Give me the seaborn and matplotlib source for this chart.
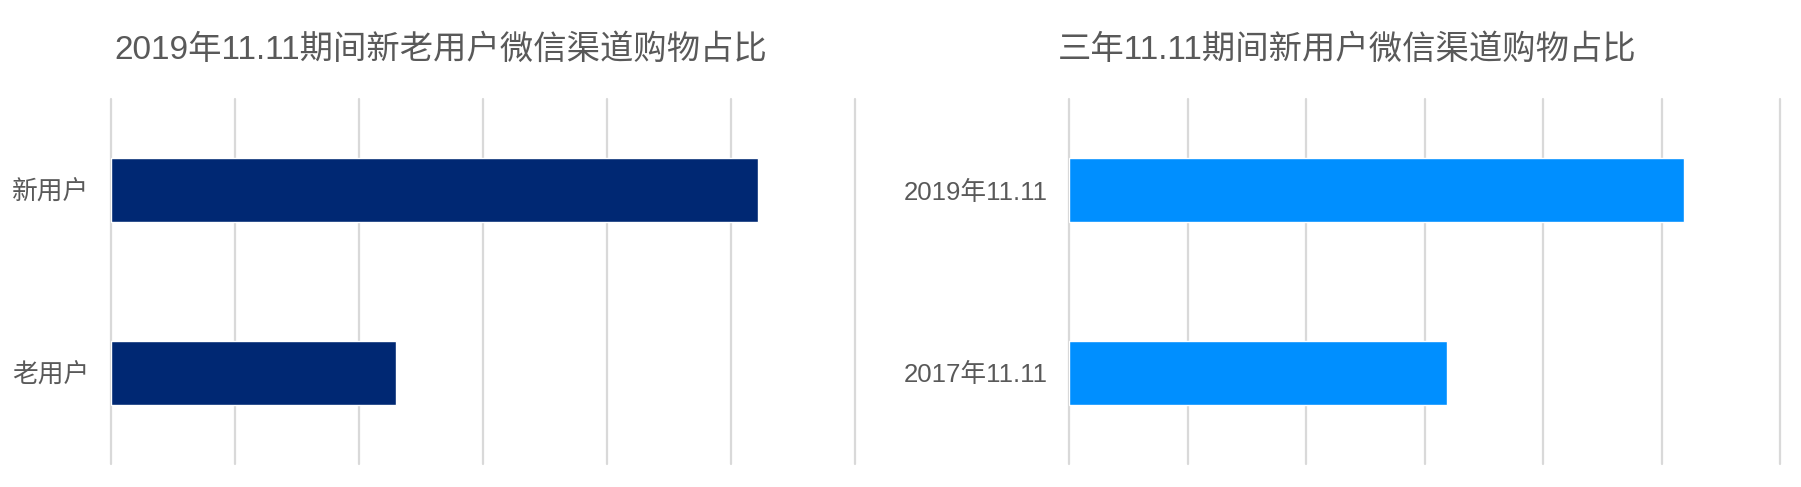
import matplotlib
matplotlib.use('Agg')
import matplotlib.pyplot as plt
import pandas as pd
import seaborn as sns

# data (share, grid step 0.1)
user_types = ['新用户', '老用户']
user_share = [0.522, 0.230]
years = ['2019年11.11', '2017年11.11']
year_share = [0.519, 0.319]

left_title = '2019年11.11期间新老用户微信渠道购物占比'
right_title = '三年11.11期间新用户微信渠道购物占比'

sns.set_style('white')
plt.rcParams['font.family'] = ['Liberation Sans', 'Noto Sans CJK SC']

text_grey = '#595959'
grid_grey = '#D9D9D9'

fig = plt.figure(figsize=(18.01, 4.87), dpi=100)
ax1 = fig.add_axes([111 / 1801, 23 / 487, 744 / 1801, 365 / 487])
ax2 = fig.add_axes([1069 / 1801, 23 / 487, 711 / 1801, 365 / 487])

df_left = pd.DataFrame({'cat': user_types, 'val': user_share})
df_right = pd.DataFrame({'cat': years, 'val': year_share})

sns.barplot(data=df_left, x='val', y='cat', ax=ax1, color='#002873',
            width=0.35, saturation=1)
sns.barplot(data=df_right, x='val', y='cat', ax=ax2, color='#008FFF',
            width=0.35, saturation=1)

for ax in (ax1, ax2):
    ax.set_xlim(0, 0.6)
    ax.set_ylim(1.5, -0.5)
    ax.set_xticks([i / 10 for i in range(7)])
    ax.set_xticklabels([])
    ax.set_xlabel('')
    ax.set_ylabel('')
    ax.set_axisbelow(True)
    ax.grid(axis='x', color=grid_grey, linewidth=1.6)
    ax.grid(axis='y', visible=False)
    for s in ax.spines.values():
        s.set_visible(False)
    ax.tick_params(axis='x', length=0)
    ax.tick_params(axis='y', length=0, pad=15.5, labelsize=18.5,
                   labelcolor=text_grey)
    for gl in ax.get_xgridlines():
        gl.set_clip_on(False)

fig.text(441 / 1801, 1 - 50 / 487, left_title, ha='center', va='center',
         fontsize=24, color=text_grey)
fig.text(1347 / 1801, 1 - 50 / 487, right_title, ha='center', va='center',
         fontsize=24, color=text_grey)

fig.savefig('out.png', dpi=100, facecolor='white')
